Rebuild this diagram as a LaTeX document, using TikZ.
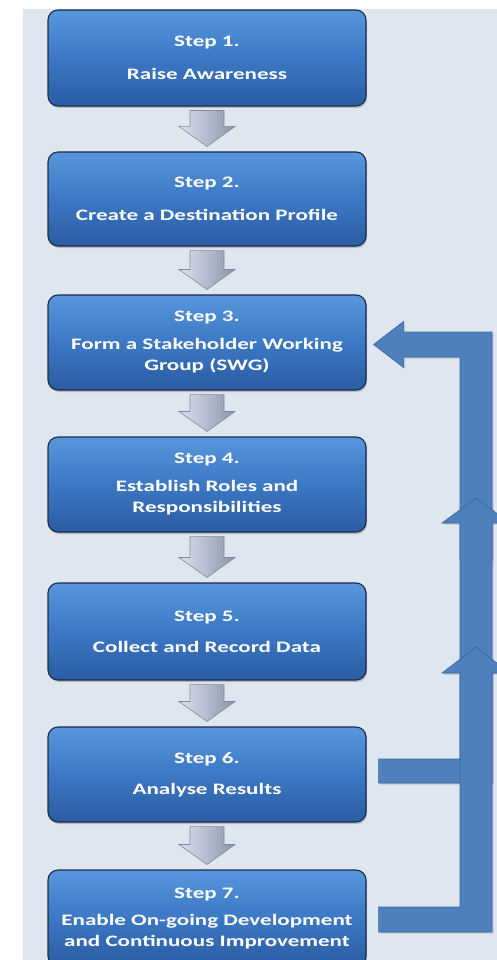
\documentclass[tikz,border=0pt]{standalone}
\usepackage{fontspec}
\setmainfont{Carlito}[FakeStretch=1.44]
\usetikzlibrary{calc,shadows}
\definecolor{bgc}{HTML}{DEE6EF}
\definecolor{boxtop}{HTML}{5796DC}
\definecolor{boxmid}{HTML}{3C78C4}
\definecolor{boxbot}{HTML}{2A5CA2}
\definecolor{boxline}{HTML}{1B2D4A}
\definecolor{arrl}{HTML}{DDE2F2}
\definecolor{arrr}{HTML}{8A93A8}
\definecolor{arrline}{HTML}{7E889C}
\definecolor{fbfill}{HTML}{4F80BE}
\definecolor{fbline}{HTML}{3A659E}
\tikzset{
  stepbox/.style={rectangle, rounded corners=10pt, minimum width=318pt,
    draw=boxline, line width=1.1pt, top color=boxtop, bottom color=boxbot,
    middle color=boxmid, text=white, align=center,
    font=\fontsize{16}{21}\selectfont\bfseries, inner sep=0pt,
    drop shadow={opacity=0.45, shadow xshift=1pt, shadow yshift=-2pt}},
  downarrow/.style={left color=arrl, right color=arrr, draw=arrline, line width=0.6pt},
  fbarrow/.style={fill=fbfill, draw=fbline, line width=0.6pt,
    drop shadow={opacity=0.3, shadow xshift=1.5pt, shadow yshift=-1.5pt}}
}
\newcommand{\blockdown}[2]{%
  \path[downarrow] ($(#1.south)+(-17,4)$) -- ($(#1.south)+(17,4)$)
    -- ($(#2.north)+(17,-25)$) -- ($(#2.north)+(28,-25)$)
    -- ($(#2.north)+(0,-5)$) -- ($(#2.north)+(-28,-25)$)
    -- ($(#2.north)+(-17,-25)$) -- cycle;}
\begin{document}
\begin{tikzpicture}[x=1pt,y=-1pt]
\useasboundingbox (0,0) rectangle (497,960);
\fill[bgc] (23,9) rectangle (497,960);
\begin{scope}
\clip (0,0) rectangle (497,960);
\node[stepbox, minimum height=96pt] (step1) at (207,58) {Step 1.\\[12pt]Raise Awareness};
\node[stepbox, minimum height=94pt] (step2) at (207,199) {Step 2.\\[12pt]Create a Destination Profile};
\node[stepbox, minimum height=95pt] (step3) at (207,342.5) {Step 3.\\[7pt]Form a Stakeholder Working\\Group (SWG)};
\node[stepbox, minimum height=95pt] (step4) at (207,484.5) {Step 4.\\[7pt]Establish Roles and\\Responsibilities};
\node[stepbox, minimum height=97pt] (step5) at (207,631.5) {Step 5.\\[10pt]Collect and Record Data};
\node[stepbox, minimum height=95pt] (step6) at (207,774.5) {Step 6.\\[10pt]Analyse Results};
\node[stepbox, minimum height=96pt] (step7) at (207,918) {Step 7.\\[6pt]Enable On-going Development\\and Continuous Improvement};
\end{scope}
\blockdown{step1}{step2}
\blockdown{step2}{step3}
\blockdown{step3}{step4}
\blockdown{step4}{step5}
\blockdown{step5}{step6}
\blockdown{step6}{step7}
% feedback arrows
\coordinate (c3) at ($(step3.east)+(7,2)$);
\coordinate (c6) at ($(step6.east)+(12,-3.5)$);
\coordinate (c7) at ($(step7.east)+(12,1.5)$);
% to step 3
\path[fbarrow] (c3) -- ++(30,-23) -- ++(0,10.5) -- (492,332) -- (492,560)
  -- (460,560) -- (460,357) -- ($(c3)+(30,12.5)$) -- ++(0,10.5) -- cycle;
% from step 6
\path[fbarrow] (c6) ++(0,-12) -- (460,759) -- (460,523) -- (442,523) -- (476,498)
  -- (510,523) -- (492,523) -- (492,783) -- ($(c6)+(0,12)$) -- cycle;
% from step 7
\path[fbarrow] (c7) ++(0,-12.5) -- (460,907) -- (460,673) -- (442,673) -- (476,647)
  -- (510,673) -- (492,673) -- (492,932) -- ($(c7)+(0,12.5)$) -- cycle;
\end{tikzpicture}
\end{document}
